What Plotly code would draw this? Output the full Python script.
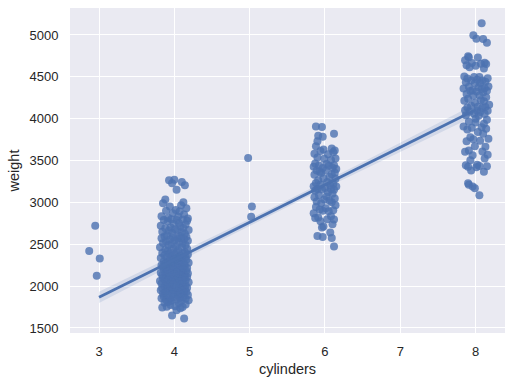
import numpy as np
import plotly.graph_objects as go

# ---- data ----
cyl3_weight = [2720, 2420, 2330, 2124]
cyl3_jitter = [-5, -13, 1, -3]

cyl4_weight = [3270, 3265, 3245, 3230, 3205, 3150, 3035, 3003,
               2990, 2965, 2950, 2930, 2910, 2900, 2890, 2870, 2855, 2835, 2830, 2815, 2808, 2800,
               2795, 2790, 2789, 2780, 2774, 2755, 2745, 2735, 2720, 2711, 2700, 2694, 2690, 2678, 2670, 2665, 2660, 2648, 2640, 2635, 2625, 2605,
               2600, 2595, 2590, 2585, 2575, 2572, 2565, 2560, 2556, 2545, 2542, 2530, 2525, 2515, 2510, 2500, 2490, 2488, 2472, 2465, 2464, 2450, 2445, 2434, 2430, 2420, 2408, 2401,
               2400, 2395, 2391, 2385, 2379, 2375, 2370, 2365, 2360, 2350, 2345, 2340, 2335, 2330, 2320, 2315, 2310, 2300, 2295, 2290, 2285, 2280, 2278, 2270, 2265, 2260, 2254, 2250, 2246, 2240, 2234, 2230, 2226, 2220, 2215, 2212, 2210, 2205,
               2200, 2198, 2190, 2189, 2185, 2171, 2164, 2160, 2158, 2155, 2150, 2145, 2140, 2135, 2130, 2128, 2125, 2123, 2120, 2116, 2110, 2108, 2100, 2094, 2090, 2085, 2080, 2075, 2074, 2070, 2065, 2060, 2055, 2050, 2045, 2040, 2035, 2030, 2025, 2020, 2019, 2015, 2010, 2003,
               2000, 1995, 1990, 1985, 1980, 1975, 1970, 1968, 1965, 1963, 1955, 1950, 1945, 1940, 1937, 1930, 1925, 1920, 1915, 1910, 1905, 1900, 1895, 1890, 1885, 1875, 1870, 1867, 1860, 1855, 1850, 1845, 1840, 1835, 1830, 1825, 1820, 1810,
               1800, 1795, 1780, 1773, 1760, 1755, 1750, 1745, 1735, 1713, 1649, 1613]
cyl4_jitter = [0, -7, 10, -3, 14, 3, -12, 12,
               -15, 9, -6, 16, 2, -11, 7, -2, 13, -17, 5, -8, 18, -4,
               11, -14, 3, 17, -9, 6, -1, 15, -18, 8, -5, 12, -12, 1, 19, -7, 4, -16, 10, -3, 14, -10,
               7, -13, 16, -2, 9, -17, 4, 13, -6, 0, 18, -11, 6, -15, 11, -4, 15, -8, 2, -19, 10, -1, 17, -12, 5, -9, 14, -5,
               3, -16, 12, -7, 18, 1, -13, 8, -3, 15, -10, 6, -18, 11, -1, 16, -6, 4, -14, 9, -9, 19, 0, -12, 13, -4, 7, -17, 14, -8, 2, -15, 10, -2, 17, -11, 5, -6,
               12, -14, 8, -1, 16, -9, 3, -18, 11, -5, 18, -12, 6, 0, -16, 14, -3, 9, -10, 2, 17, -7, 13, -15, 5, -2, 10, -13, 15, -8, 1, -19, 7, -4, 19, -11, 4, -17, 12, -6, 8, -1, 15, -10,
               6, -13, 11, -5, 17, -16, 2, 9, -9, 14, -2, -18, 10, -7, 4, 16, -12, 0, 13, -15, 7, -3, 18, -10, 5, -14, 12, -1, 8, -17, 15, -6, 3, -11, 19, -4, 9, -8,
               -13, 6, 15, -5, 1, -10, 11, -16, 8, 3, -3, 13]

cyl5_weight = [3530, 2950, 2830]
cyl5_jitter = [-2, 3, 2]

cyl6_weight = [3907, 3900, 3820, 3795, 3785, 3730, 3672, 3645, 3632, 3620,
               3613, 3600, 3580, 3574, 3535, 3525, 3520, 3505, 3465, 3459,
               3445, 3440, 3439, 3425, 3415, 3410, 3400, 3381, 3380, 3365,
               3353, 3350, 3336, 3329, 3302, 3288, 3282, 3265, 3245, 3233,
               3221, 3210, 3205, 3193, 3190, 3171, 3160, 3158, 3155, 3150,
               3139, 3120, 3102, 3085, 3070, 3060, 3046, 3035, 3021, 3012,
               3003, 2990, 2965, 2945, 2930, 2914, 2905, 2900, 2895, 2870,
               2835, 2820, 2815, 2800, 2795, 2774, 2740, 2711, 2700, 2640,
               2600, 2587, 2575, 2472]
cyl6_jitter = [-12, -4, 12, -9, -3, -10, -12, 9, -2, 13,
               -6, 11, -14, 4, -10, 14, -1, 8, -13, 2,
               12, -8, 5, -15, 10, -3, 15, -11, 1, -7,
               13, -5, 9, -14, 6, -2, 14, -9, 3, -12,
               11, -6, 7, -15, 15, 0, -10, 8, -4, 12,
               -13, 4, 10, -8, 2, -14, 13, -1, 6, -11,
               9, -5, 14, -12, 1, -7, 11, -3, 5, -15,
               8, -9, -13, 3, 12, -6, 10, -2, -4, 7,
               -10, -3, 9, 12]

cyl8_weight = [5140, 4997, 4955, 4951, 4906, 4746, 4735, 4732, 4699, 4668,
               4664, 4657, 4654, 4638, 4633, 4615, 4600, 4505, 4499, 4498,
               4482, 4479, 4464, 4457, 4456, 4440, 4436, 4425, 4422, 4385,
               4380, 4376, 4363, 4360, 4354, 4341, 4335, 4330, 4325, 4312,
               4295, 4278, 4274, 4257, 4237, 4220, 4215, 4209, 4190, 4165,
               4154, 4141, 4140, 4135, 4129, 4100, 4098, 4096, 4082, 4080,
               4060, 4055, 4042, 4034, 3988, 3962, 3955, 3940, 3907, 3897,
               3892, 3880, 3870, 3840, 3821, 3777, 3761, 3755, 3735, 3730,
               3664, 3672, 3620, 3609, 3605, 3570, 3563, 3525, 3504, 3449,
               3445, 3436, 3433, 3425, 3420, 3381, 3365, 3230, 3210, 3190,
               3169, 3086, 4000]
cyl8_jitter = [8, -3, 1, 10, 15, -10, -9, 3, -14, 12,
               -5, 7, 14, -12, 0, -8, 11, -15, 5, -2,
               16, -11, 2, 9, -6, 13, -13, 6, -1, 17,
               -9, 4, 12, -16, 8, -4, 15, -7, 1, 10,
               -12, 5, -3, 14, -10, 7, -15, 11, -1, 18,
               -6, 3, 13, -11, 9, -14, 2, 16, -8, 6,
               -2, 12, -13, 4, 15, -9, 0, 11, -16, 8,
               -5, 14, -11, 3, 10, -7, 17, -3, 6, -12,
               13, -1, -9, 9, -14, 16, -4, 12, -7, 2,
               -13, 5, 15, -10, 1, -6, 11, -10, -9, -4,
               -1, 5, 0]

groups = [(3, cyl3_weight, cyl3_jitter), (4, cyl4_weight, cyl4_jitter),
          (5, cyl5_weight, cyl5_jitter), (6, cyl6_weight, cyl6_jitter),
          (8, cyl8_weight, cyl8_jitter)]

x_raw, x_jit, y = [], [], []
for c, ws, js in groups:
    for w, j in zip(ws, js):
        x_raw.append(c)
        x_jit.append(c + j / 100.0)
        y.append(w)
x_raw = np.array(x_raw, float)
x_jit = np.array(x_jit, float)
y = np.array(y, float)

# ---- linear fit with 95% CI ----
slope, intercept = np.polyfit(x_raw, y, 1)
xg = np.linspace(x_raw.min(), x_raw.max(), 100)
yg = intercept + slope * xg
n = len(x_raw)
resid = y - (intercept + slope * x_raw)
s = np.sqrt(np.sum(resid ** 2) / (n - 2))
sxx = np.sum((x_raw - x_raw.mean()) ** 2)
se = s * np.sqrt(1.0 / n + (xg - x_raw.mean()) ** 2 / sxx)
lo, hi = yg - 1.96 * se, yg + 1.96 * se

color = "#4C72B0"
fig = go.Figure()
fig.add_trace(go.Scatter(x=x_jit, y=y, mode="markers",
                         marker=dict(size=8, color=color, opacity=0.8, line=dict(width=0)),
                         showlegend=False, hoverinfo="skip"))
fig.add_trace(go.Scatter(x=np.concatenate([xg, xg[::-1]]), y=np.concatenate([hi, lo[::-1]]),
                         fill="toself", fillcolor="rgba(76,114,176,0.15)",
                         line=dict(width=0), mode="lines", showlegend=False, hoverinfo="skip"))
fig.add_trace(go.Scatter(x=xg, y=yg, mode="lines", line=dict(color=color, width=2.8),
                         showlegend=False, hoverinfo="skip"))

font = "Liberation Sans, Arial, sans-serif"
fig.update_layout(
    width=514, height=385,
    margin=dict(l=70, r=9, t=8, b=52),
    paper_bgcolor="white", plot_bgcolor="#EAEAF2",
    font=dict(family=font, color="#262626", size=13),
)
fig.update_xaxes(range=[2.615, 8.39], tickvals=[3, 4, 5, 6, 7, 8], automargin=False,
                 showgrid=True, gridcolor="white", gridwidth=1.2, zeroline=False,
                 showline=False, ticks="outside", ticklen=6, tickcolor="rgba(0,0,0,0)",
                 tickfont=dict(size=13, family=font, color="#262626"),
                 title=dict(text="cylinders", font=dict(size=14.5, family=font, color="#262626"), standoff=6))
fig.update_yaxes(range=[1440, 5322], tickvals=[1500, 2000, 2500, 3000, 3500, 4000, 4500, 5000],
                 automargin=False,
                 showgrid=True, gridcolor="white", gridwidth=1.2, zeroline=False,
                 showline=False, ticks="outside", ticklen=8, tickcolor="rgba(0,0,0,0)",
                 tickfont=dict(size=13, family=font, color="#262626"),
                 title=dict(text="weight", font=dict(size=14.5, family=font, color="#262626"), standoff=6))

fig.write_html("out.html", config={"displayModeBar": False},
               post_script="document.body.style.margin='0';")
